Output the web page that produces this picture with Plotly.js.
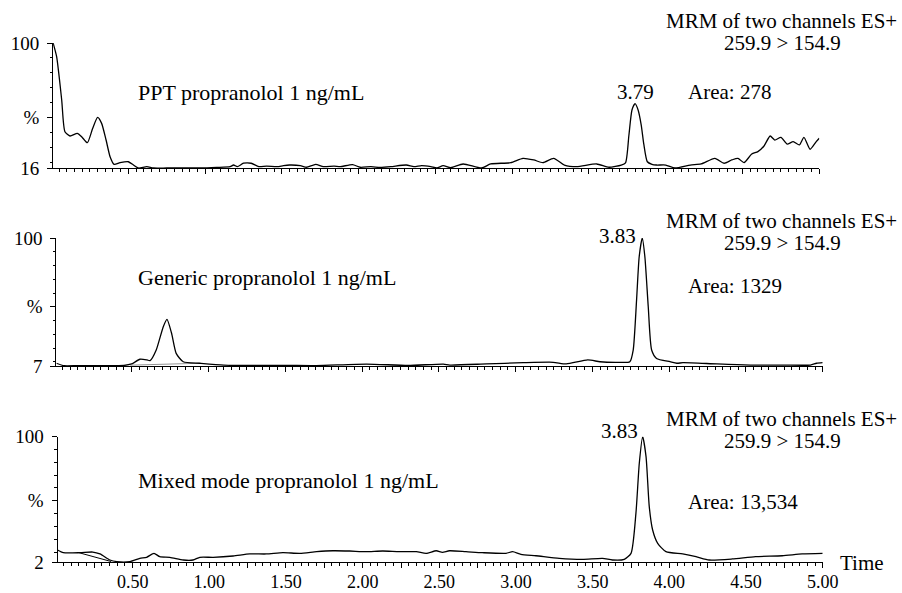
<!DOCTYPE html>
<html><head><meta charset="utf-8">
<script src="https://cdn.plot.ly/plotly-3.0.1.min.js"></script>
<style>
html,body{margin:0;padding:0;background:#fff;font-family:"Liberation Serif",serif}
#chart{width:902px;height:593px}
#chart svg text{font-family:"Liberation Serif","Times New Roman",serif !important}
</style>
</head><body><div id="chart"></div>
<script>
// ---- Data ----
const pptTime = [0.01,0.033,0.066,0.087,0.12,0.168,0.196,0.233,0.268,0.30,0.326,0.355,0.381,0.407,0.446,0.50,0.533,0.565,0.62,0.663,0.75,0.86,0.967,1.076,1.163,1.185,1.21,1.25,1.30,1.35,1.40,1.47,1.51,1.55,1.62,1.66,1.72,1.77,1.84,1.88,1.96,2.01,2.08,2.14,2.21,2.31,2.36,2.41,2.47,2.51,2.55,2.60,2.68,2.80,2.86,2.99,3.07,3.14,3.20,3.27,3.34,3.42,3.55,3.63,3.71,3.738,3.76,3.78,3.80,3.82,3.84,3.857,3.88,3.91,3.94,4.00,4.06,4.16,4.23,4.32,4.38,4.43,4.47,4.51,4.56,4.60,4.64,4.68,4.71,4.75,4.79,4.83,4.87,4.90,4.94,4.98,5.00];
const pptIntensity = [100,90.8,61.7,40.4,37.5,39.3,37,33,42.7,50,46,34.8,23.6,18.5,19.6,20.2,18,16,16.9,16,16,16,16,16.4,16.9,18,16.9,19.2,19.2,16.9,17.3,16.9,17.6,18,17.6,16.5,18.5,16.9,17.3,16.9,18.3,16.5,16.9,16.4,16.9,18,16.9,17.6,16.9,16,17.6,16.2,18.7,16,18.7,19.6,22.5,21.4,19.6,22.5,18,16.9,18.7,16.5,18,19.5,38,55,59.3,55,45,32,20.2,18.5,18,18,16,18,18.7,22.5,19.2,21.4,22.5,19.6,25.4,27,30.8,37.5,34.8,36.6,32.1,33.7,31.5,36.6,28.6,33.7,36];

const genTime = [0.01,0.06,0.15,0.25,0.35,0.45,0.50,0.554,0.60,0.62,0.66,0.706,0.73,0.76,0.79,0.836,0.945,1.10,1.30,1.50,1.70,2.03,2.30,2.53,2.572,2.81,3.05,3.245,3.33,3.47,3.55,3.657,3.744,3.766,3.788,3.805,3.825,3.842,3.864,3.886,3.918,4.006,4.05,4.09,4.31,4.53,4.74,4.92,4.96,5.00];
const genIntensity = [9,7.2,7.3,7.2,7.3,7.4,8.5,11.9,11.4,10.9,18.6,35.6,40.9,30.8,16.2,10.1,9,7.7,7.4,7.5,7.3,8.4,7.4,8.4,7.7,8.5,9.4,9.7,8.5,11.4,10.1,9.7,10.1,18.6,55,86.4,100,86.4,50,18.6,12.5,10.1,9,9.4,8.5,7.7,7.7,7.7,9,9.4];
const genBaseTime = [0.49,0.94];
const genBaseIntensity = [7.6,9.0];

const mixTime = [0.01,0.048,0.157,0.24,0.287,0.352,0.396,0.482,0.547,0.591,0.639,0.677,0.743,0.83,0.894,0.938,1.025,1.155,1.264,1.372,1.48,1.59,1.70,1.806,1.915,2.02,2.131,2.24,2.35,2.414,2.48,2.52,2.566,2.674,2.78,2.935,2.978,3.032,3.13,3.282,3.434,3.564,3.629,3.706,3.75,3.782,3.804,3.826,3.848,3.869,3.891,3.924,3.978,4.087,4.174,4.26,4.41,4.562,4.736,4.866,5.0];
const mixIntensity = [11.6,9.5,9.5,10,8.5,3.8,2.5,2.5,5.1,5.9,9,6.4,5.9,3.8,3.8,5.9,5.9,6.9,8.5,8.5,9.5,9,10.3,11,10.8,10.3,10.8,10.3,10.3,9,11,9.8,11,10.3,9.5,9,10.3,8.2,7.1,5.1,4.3,5.1,3.8,4.3,9,40.2,79.3,100,84.4,45.4,27.2,16.8,10.3,8.5,6.4,3.8,4.6,6.4,7.1,8.5,9];
const mixBaseTime = [0.15,0.36];
const mixBaseIntensity = [9.5,2.6];

const xTickVals = [0.25,0.50,0.75,1.00,1.25,1.50,1.75,2.00,2.25,2.50,2.75,3.00,3.25,3.50,3.75,4.00,4.25,4.50,4.75,5.00];
const xTickText = ["","0.50","","1.00","","1.50","","2.00","","2.50","","3.00","","3.50","","4.00","","4.50","","5.00"];
const yMins = [16, 7, 2];
const yMinorVals = [10,20,30,40,60,70,80,90];

const sampleNames = ["PPT propranolol 1 ng/mL","Generic propranolol 1 ng/mL","Mixed mode propranolol 1 ng/mL"];
const peakLabels = ["3.79","3.83","3.83"];
const areaLabels = ["Area: 278","Area: 1329","Area: 13,534"];
const mrmLine1 = "MRM of two channels ES+";
const mrmLine2 = "259.9 > 154.9";

// ---- Layout geometry ----
const W=902,H=593,ML=50,MR=76,MT=20,MB=30;
const PW=W-ML-MR, PH=H-MT-MB;
const px = p => (p-ML)/PW;
const py = p => (H-MB-p)/PH;

const SERIF = "Liberation Serif";
const lineStyle = {color:'#000', width:1.3, shape:'spline', smoothing:0.6};

const traces = [
  {x:pptTime, y:pptIntensity, xaxis:'x', yaxis:'y', mode:'lines', line:lineStyle, hoverinfo:'skip'},
  {x:genBaseTime, y:genBaseIntensity, xaxis:'x2', yaxis:'y2', mode:'lines', line:{color:'#777',width:0.8}, hoverinfo:'skip'},
  {x:genTime, y:genIntensity, xaxis:'x2', yaxis:'y2', mode:'lines', line:lineStyle, hoverinfo:'skip'},
  {x:mixBaseTime, y:mixBaseIntensity, xaxis:'x3', yaxis:'y3', mode:'lines', line:{color:'#000',width:1}, hoverinfo:'skip'},
  {x:mixTime, y:mixIntensity, xaxis:'x3', yaxis:'y3', mode:'lines', line:lineStyle, hoverinfo:'skip'}
];

function xax(dom, anchor, labels){
  return {domain:dom, anchor:anchor, range:[0.01,5.0], showline:true, linecolor:'#000', linewidth:1,
    ticks:'outside', ticklen:5, tickwidth:1, tickcolor:'#000', tickmode:'array', tickvals:xTickVals, ticktext:xTickText,
    showticklabels:labels, showgrid:false, zeroline:false, tickfont:{family:SERIF,size:18}, ticklabelstandoff:-2,
    minor:{tick0:0, dtick:0.05, ticks:'outside', ticklen:2.5, tickwidth:1, tickcolor:'#000', showgrid:false},
    fixedrange:true};
}
function yax(dom, anchor, mn){
  return {domain:dom, anchor:anchor, range:[mn,100], showline:true, linecolor:'#000', linewidth:1,
    ticks:'outside', ticklen:5, tickwidth:1, tickcolor:'#000', tickmode:'array', tickvals:[mn,50,100], ticktext:[String(mn),'%','100'],
    showgrid:false, zeroline:false, tickfont:{family:SERIF,size:19}, ticklabelstandoff:4,
    minor:{tickmode:'array', tickvals:yMinorVals.filter(v=>v>mn), ticks:'outside', ticklen:2.5, tickwidth:1, tickcolor:'#000', showgrid:false},
    fixedrange:true};
}

const panelTop = [43,238,436.7], panelBot=[168,366,562.3];
const xDom = [[px(53.1),px(819.3)],[px(56.4),px(822.7)],[px(57.5),px(822.7)]];

const ann = [];
function addText(text, x, y, xanchor, size){
  ann.push({text:text, xref:'paper', yref:'paper', x:px(x), y:py(y), xanchor:xanchor, yanchor:'middle',
    showarrow:false, font:{family:SERIF,size:size}});
}
// panel-specific positions (pixels)
const mrm1Y=[21,220.5,418.5], mrm2Y=[43.5,243,441];
const peakX=[635,617.7,619.5], peakY=[91.7,235.5,431];
const areaY=[91.7,286,501.7];
const nameY=[92.5,277.5,480];
for(let i=0;i<3;i++){
  addText(mrmLine1, 781, mrm1Y[i], 'center', 21);
  addText(mrmLine2, 782, mrm2Y[i], 'center', 21);
  addText(peakLabels[i], peakX[i], peakY[i], 'center', 21);
  addText(areaLabels[i], 685.5, areaY[i], 'left', 21);
  addText(sampleNames[i], 135.5, nameY[i], 'left', 22);
}
addText("Time", 838, 563, 'left', 21);

const layout = {
  width:W, height:H, margin:{l:ML,r:MR,t:MT,b:MB}, paper_bgcolor:'#fff', plot_bgcolor:'#fff',
  showlegend:false, font:{family:SERIF, color:'#000'},
  xaxis: xax(xDom[0],'y',false),
  yaxis: yax([py(panelBot[0]),py(panelTop[0])],'x',yMins[0]),
  xaxis2: xax(xDom[1],'y2',false),
  yaxis2: yax([py(panelBot[1]),py(panelTop[1])],'x2',yMins[1]),
  xaxis3: xax(xDom[2],'y3',true),
  yaxis3: yax([py(panelBot[2]),py(panelTop[2])],'x3',yMins[2]),
  annotations: ann
};
Plotly.newPlot('chart', traces, layout, {displayModeBar:false});
</script></body></html>
